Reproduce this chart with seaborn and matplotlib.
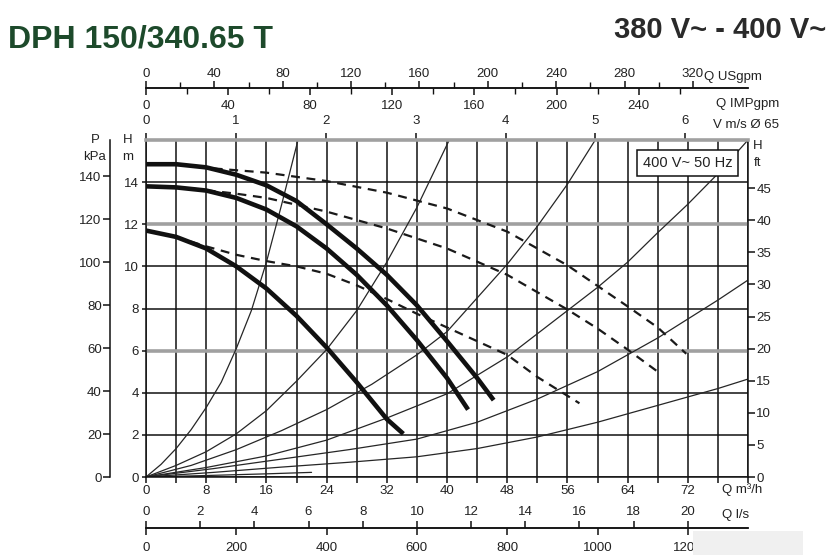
import numpy as np
import pandas as pd
import seaborn as sns
import matplotlib.pyplot as plt
from matplotlib.patches import Rectangle

# pump curves, Q in m3/h, H in m
q_max_1 = [0, 4, 8, 12, 16, 20, 24, 28, 32, 36, 40, 44, 46.2]
h_max_1 = [14.85, 14.85, 14.7, 14.35, 13.85, 13.1, 12.0, 10.85, 9.6, 8.15, 6.45, 4.7, 3.65]
q_max_2 = [0, 4, 8, 12, 16, 20, 24, 28, 32, 36, 40, 42.8]
h_max_2 = [13.8, 13.75, 13.6, 13.25, 12.7, 11.9, 10.85, 9.6, 8.15, 6.5, 4.7, 3.2]
q_max_3 = [0, 4, 8, 12, 16, 20, 24, 28, 32, 34.2]
h_max_3 = [11.7, 11.4, 10.85, 10.0, 8.95, 7.65, 6.15, 4.5, 2.75, 2.05]

q_dash_1 = [9, 16, 24, 32, 40, 48, 56, 64, 68, 71.8]
h_dash_1 = [14.65, 14.45, 14.05, 13.5, 12.75, 11.65, 10.05, 8.1, 7.1, 5.85]
q_dash_2 = [6, 12, 16, 24, 32, 40, 48, 56, 60, 64, 68]
h_dash_2 = [13.7, 13.45, 13.25, 12.6, 11.8, 10.85, 9.6, 7.95, 7.05, 6.05, 5.0]
q_dash_3 = [4, 8, 12, 16, 20, 24, 28, 32, 36, 40, 44, 48, 52, 57.6]
h_dash_3 = [11.4, 10.95, 10.55, 10.25, 10.0, 9.65, 9.1, 8.45, 7.75, 7.1, 6.45, 5.8, 4.75, 3.5]

# system curves (thin lines from the origin)
q_sys_a = [0, 2, 4, 6, 8, 10, 12, 14, 16, 18, 20.2]
h_sys_a = [0, 0.6, 1.35, 2.25, 3.3, 4.5, 6.1, 7.9, 10.2, 12.9, 16]
q_sys_b = [0, 4, 8, 12, 16, 20, 24, 28, 32, 36, 40.3]
h_sys_b = [0, 0.55, 1.2, 2.05, 3.15, 4.55, 6.05, 7.9, 10.2, 12.8, 16]
q_sys_c = [0, 6, 12, 18, 24, 30, 36, 40, 44, 48, 52, 56, 59.7]
h_sys_c = [0, 0.55, 1.3, 2.2, 3.2, 4.4, 5.8, 6.9, 8.5, 10.1, 11.9, 13.9, 16]
q_sys_d = [0, 8, 16, 24, 32, 40, 48, 56, 60, 64, 68, 72, 76, 80]
h_sys_d = [0, 0.45, 1.0, 1.75, 2.8, 3.95, 5.7, 7.9, 9.0, 10.2, 11.6, 12.95, 14.4, 16]
q_sys_e = [0, 9, 18, 27, 36, 44, 52, 60, 68, 76, 80]
h_sys_e = [0, 0.4, 0.85, 1.3, 1.8, 2.6, 3.7, 5.0, 6.6, 8.4, 9.35]
q_sys_f = [0, 9, 18, 27, 36, 44, 52, 60, 68, 76, 80]
h_sys_f = [0, 0.22, 0.47, 0.7, 0.96, 1.35, 1.9, 2.6, 3.4, 4.2, 4.65]
q_sys_g = [0, 8, 16, 22]
h_sys_g = [0, 0.07, 0.15, 0.22]

# axis ticks
m3h_ticks = [0, 8, 16, 24, 32, 40, 48, 56, 64, 72]
head_ticks = [0, 2, 4, 6, 8, 10, 12, 14]
kpa_ticks = [0, 20, 40, 60, 80, 100, 120, 140]
ft_ticks = [0, 5, 10, 15, 20, 25, 30, 35, 40, 45]
usgpm_ticks = [0, 40, 80, 120, 160, 200, 240, 280, 320]
impgpm_ticks = [0, 40, 80, 120, 160, 200, 240]
speed_ticks = [0, 1, 2, 3, 4, 5, 6]
ls_ticks = [0, 2, 4, 6, 8, 10, 12, 14, 16, 18, 20]
lmin_ticks = [0, 200, 400, 600, 800, 1000, 1200]

sns.set_theme(style="ticks")
plt.rcParams['font.family'] = ['Liberation Sans', 'DejaVu Sans']

W, H = 840, 555
TXT = '#222222'
FS = 9.5

fig = plt.figure(figsize=(W / 100, H / 100), dpi=100)
fig.patch.set_facecolor('white')
ax = fig.add_axes([146 / W, 1 - 477 / H, 602 / W, 337 / H])
ax.set_xlim(0, 80)
ax.set_ylim(0, 16)


def long_df(curves):
    parts = [pd.DataFrame({'Q': q, 'H': h, 'curve': name}) for name, q, h in curves]
    return pd.concat(parts, ignore_index=True)


sys_df = long_df([('a', q_sys_a, h_sys_a), ('b', q_sys_b, h_sys_b), ('c', q_sys_c, h_sys_c),
                  ('d', q_sys_d, h_sys_d), ('e', q_sys_e, h_sys_e), ('f', q_sys_f, h_sys_f),
                  ('g', q_sys_g, h_sys_g)])
solid_df = long_df([('1', q_max_1, h_max_1), ('2', q_max_2, h_max_2), ('3', q_max_3, h_max_3)])
dash_df = long_df([('1', q_dash_1, h_dash_1), ('2', q_dash_2, h_dash_2), ('3', q_dash_3, h_dash_3)])

# grid
ax.set_xticks(m3h_ticks)
ax.set_xticks(np.arange(0, 81, 4), minor=True)
ax.set_yticks(head_ticks)
ax.grid(which='both', axis='x', color='#111111', lw=1.1, zorder=0)
ax.grid(which='major', axis='y', color='#111111', lw=1.1, zorder=0)
ax.set_axisbelow(True)
for hv in (6, 12):
    ax.axhline(hv, color='#a0a0a0', lw=2.6, zorder=0.6)

sns.lineplot(data=sys_df, x='Q', y='H', units='curve', estimator=None, sort=False,
             color='#262626', lw=0.9, legend=False, ax=ax, zorder=2)
sns.lineplot(data=dash_df, x='Q', y='H', units='curve', estimator=None, sort=False,
             color='#1a1a1a', lw=1.6, linestyle=(0, (4, 3)), legend=False, ax=ax, zorder=3)
sns.lineplot(data=solid_df, x='Q', y='H', units='curve', estimator=None, sort=False,
             color='#111111', lw=3.3, legend=False, ax=ax, zorder=4, solid_capstyle='butt')

ax.set_xlabel('')
ax.set_ylabel('')
for s in ('left', 'bottom', 'right'):
    ax.spines[s].set_color('#111111')
    ax.spines[s].set_linewidth(1.1)
ax.spines['top'].set_color('#a0a0a0')
ax.spines['top'].set_linewidth(2.6)
ax.tick_params(axis='x', which='both', bottom=True, top=False, direction='out',
               length=4, width=1.1, color='#111111', labelsize=FS, labelcolor=TXT, pad=2)
ax.tick_params(axis='x', which='minor', length=4)
ax.tick_params(axis='y', which='major', left=True, right=False, direction='out',
               length=3, width=1.1, color='#111111', labelsize=FS, labelcolor=TXT, pad=2)
ax.set_xticklabels([str(t) for t in m3h_ticks])
ax.set_yticklabels([str(t) for t in head_ticks])


def style_sec(sec, axis, ticks, minor=None, pad=2, length=5):
    if axis == 'x':
        sec.set_xticks(ticks)
        sec.set_xticklabels([str(t) for t in ticks])
        if minor is not None:
            sec.set_xticks(minor, minor=True)
    else:
        sec.set_yticks(ticks)
        sec.set_yticklabels([str(t) for t in ticks])
    sec.tick_params(which='major', direction='out', length=length, width=1.1, color='#111111',
                    labelsize=FS, labelcolor=TXT, pad=pad)
    sec.tick_params(which='minor', direction='out', length=4, width=1.0, color='#111111')
    for sp in sec.spines.values():
        sp.set_color('#111111')
        sp.set_linewidth(1.1)


# right: H in ft
ft_ax = ax.secondary_yaxis('right', functions=(lambda m: m / 0.3048, lambda f: f * 0.3048))
style_sec(ft_ax, 'y', ft_ticks, pad=1)
ft_ax.spines['right'].set_visible(False)

# left: P in kPa
kpa_ax = ax.secondary_yaxis(-36 / 602, functions=(lambda m: m * 9.80665, lambda p: p / 9.80665))
style_sec(kpa_ax, 'y', kpa_ticks, pad=1)

# top: velocity in DN65
v_ax = ax.secondary_xaxis('top', functions=(lambda q: q / 11.945, lambda v: v * 11.945))
style_sec(v_ax, 'x', speed_ticks, pad=4)
v_ax.spines['top'].set_visible(False)

# top: US gpm / IMP gpm share one line
y_gpm = (477 - 88) / 337
us_ax = ax.secondary_xaxis(y_gpm, functions=(lambda q: q / 0.2271247, lambda g: g * 0.2271247))
style_sec(us_ax, 'x', usgpm_ticks, minor=np.arange(20, 340, 40), pad=1)
imp_ax = ax.secondary_xaxis(y_gpm, functions=(lambda q: q / 0.2727645, lambda g: g * 0.2727645))
style_sec(imp_ax, 'x', impgpm_ticks, minor=np.arange(20, 280, 40), pad=4)
imp_ax.set_alignment('bottom')

# bottom: l/s and l/min share one line
y_ls = (477 - 528) / 337
ls_ax = ax.secondary_xaxis(y_ls, functions=(lambda q: q / 3.6, lambda l: l * 3.6))
style_sec(ls_ax, 'x', ls_ticks, pad=2)
ls_ax.set_alignment('top')
lmin_ax = ax.secondary_xaxis(y_ls, functions=(lambda q: q / 0.06, lambda l: l * 0.06))
style_sec(lmin_ax, 'x', lmin_ticks, pad=5)
lmin_ax.set_alignment('bottom')


def ftext(px, py, s, **kw):
    kw.setdefault('fontsize', FS)
    kw.setdefault('color', TXT)
    fig.text(px / W, 1 - py / H, s, **kw)


ftext(704, 77, 'Q USgpm', va='center', ha='left')
ftext(779, 104, 'Q IMPgpm', va='center', ha='right')
ftext(779, 125, 'V m/s Ø 65', va='center', ha='right')
ftext(722, 490, 'Q m³/h', va='center', ha='left')
ftext(722, 515, 'Q l/s', va='center', ha='left')
ftext(95, 140, 'P', va='center', ha='center')
ftext(95, 157, 'kPa', va='center', ha='center')
ftext(128, 140, 'H', va='center', ha='center')
ftext(128, 157, 'm', va='center', ha='center')
ftext(753, 146, 'H', va='center', ha='left')
ftext(754, 163, 'ft', va='center', ha='left')

ax.text(72.0, 14.9, '400 V~ 50 Hz', ha='center', va='center', fontsize=10.5, color=TXT,
        bbox=dict(boxstyle='square,pad=0.4', fc='white', ec='#111111', lw=1.1), zorder=6)

# headings
ftext(8, 47, 'DPH 150/340.65 T', fontsize=23, fontweight='bold', color='#1d4a2b',
      va='baseline')
ftext(614, 38, '380 V~ - 400 V~', fontsize=21, fontweight='bold', color='#2a2a2a',
      va='baseline')

# faint watermark patch bottom-right
fig.patches.append(Rectangle((693 / W, 0), 110 / W, 24 / H, transform=fig.transFigure,
                             facecolor='#f0f0f0', edgecolor='none', zorder=10))

fig.savefig('out.png', dpi=100)
